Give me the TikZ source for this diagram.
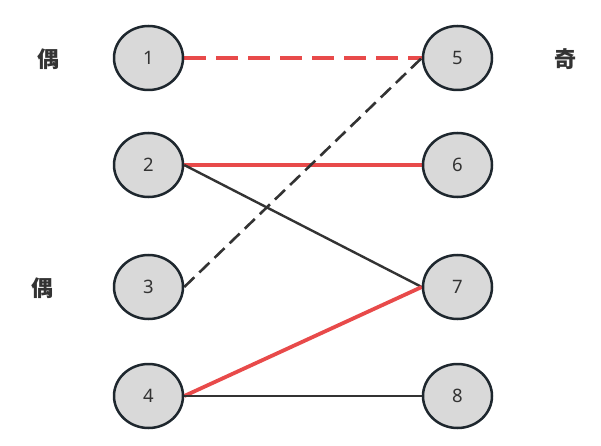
\documentclass[tikz,border=0pt]{standalone}
\usepackage{fontspec}
\setmainfont{Noto Sans}
\newfontfamily\cjk{Noto Sans CJK SC}
\usetikzlibrary{shapes.geometric,backgrounds}
\definecolor{nodefill}{HTML}{D9D9D9}
\definecolor{nodeline}{HTML}{1E272E}
\definecolor{redline}{HTML}{E84A4A}
\definecolor{darkline}{HTML}{333333}
\definecolor{textcol}{HTML}{333333}
\begin{document}
\begin{tikzpicture}[x=1pt,y=-1pt,
  vnode/.style={ellipse,draw=nodeline,fill=nodefill,line width=2.5pt,
    minimum width=69pt,minimum height=64pt,inner sep=0pt,
    font=\fontsize{18.5}{18.5}\selectfont,text=textcol},
  side/.style={font=\cjk\bfseries\fontsize{22}{22}\selectfont,text=textcol},
  redsolid/.style={draw=redline,line width=3.8pt},
  reddash/.style={draw=redline,line width=3.8pt,dash pattern=on 22pt off 10pt},
  darksolid/.style={draw=darkline,line width=2.4pt},
  darkdash/.style={draw=darkline,line width=2.6pt,dash pattern=on 14pt off 7pt}]
\useasboundingbox (0,0) rectangle (601,446);
\node[vnode] (n1) at (148.5,58) {1};
\node[vnode] (n2) at (148.5,165) {2};
\node[vnode] (n3) at (148.5,287) {3};
\node[vnode] (n4) at (148.5,396) {4};
\node[vnode] (n5) at (457.5,58) {5};
\node[vnode] (n6) at (457.5,165) {6};
\node[vnode] (n7) at (457.5,287) {7};
\node[vnode] (n8) at (457.5,396) {8};
\node[side] (l1) at (48,59) {偶};
\node[side] (l2) at (42,288) {偶};
\node[side] (l3) at (565,59) {奇};
\begin{pgfonlayer}{background}
\draw[reddash] (n1.east) -- (n5.west);
\draw[redsolid] (n2.east) -- (n6.west);
\draw[darksolid] (n2.east) -- (n7.west);
\draw[darkdash] (n3.east) -- (n5.west);
\draw[redsolid] (n4.east) -- (n7.west);
\draw[darksolid] (n4.east) -- (n8.west);
\end{pgfonlayer}
\end{tikzpicture}
\end{document}
